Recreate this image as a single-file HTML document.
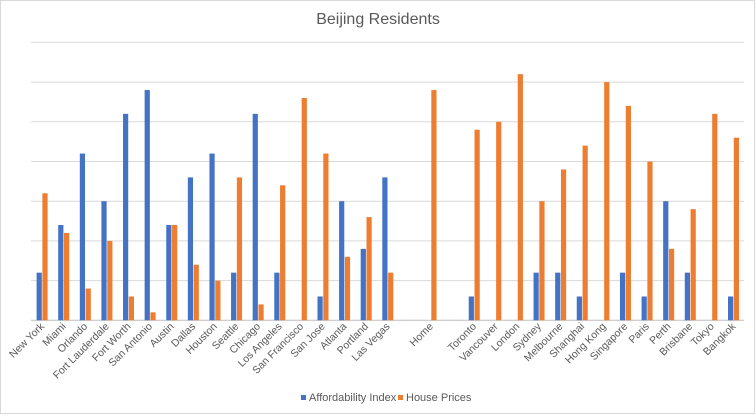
<!DOCTYPE html>
<html><head><meta charset="utf-8"><style>
body{margin:0;background:#fff;}
svg{display:block;font-family:"Liberation Sans",Arial,sans-serif;}
</style></head><body>
<svg id="chart" width="756" height="416" viewBox="0 0 756 416">
<rect x="0.5" y="0.5" width="754" height="413" fill="#fff" stroke="#d9d9d9"/>
<text x="378" y="24" text-anchor="middle" font-size="16" fill="#595959">Beijing Residents</text>
<g id="grid"></g><g id="bars"></g><g id="labels"></g>
<g>
<rect x="301" y="395" width="5" height="5" fill="#4472c4"/>
<text x="309" y="401" font-size="11" fill="#595959">Affordability Index</text>
<rect x="398" y="395" width="5" height="5" fill="#ed7d31"/>
<text x="406" y="401" font-size="11" fill="#595959">House Prices</text>
</g>
</svg>
<script>
const categories=["New York","Miami","Orlando","Fort Lauderdale","Fort Worth","San Antonio","Austin","Dallas","Houston","Seattle","Chicago","Los Angeles","San Francisco","San Jose","Atlanta","Portland","Las Vegas","","Home","","Toronto","Vancouver","London","Sydney","Melbourne","Shanghai","Hong Kong","Singapore","Paris","Perth","Brisbane","Tokyo","Bangkok"];
const affordability=[1.2,2.4,4.2,3.0,5.2,5.8,2.4,3.6,4.2,1.2,5.2,1.2,0,0.6,3.0,1.8,3.6,0,0,0,0.6,0,0,1.2,1.2,0.6,0,1.2,0.6,3.0,1.2,0,0.6];
const housePrices=[3.2,2.2,0.8,2.0,0.6,0.2,2.4,1.4,1.0,3.6,0.4,3.4,5.6,4.2,1.6,2.6,1.2,0,5.8,0,4.8,5.0,6.2,3.0,3.8,4.4,6.0,5.4,4.0,1.8,2.8,5.2,4.6];
const gridTicks=[0,1,2,3,4,5,6,7];
const NS="http://www.w3.org/2000/svg";
const X0=31,X1=744,Y0=320.3,UNIT=39.7;
const step=(X1-X0)/categories.length;
const xc=i=>X0+step*(i+0.5);
const y=v=>Y0-v*UNIT;
function mk(tag,attrs,parent){const e=document.createElementNS(NS,tag);for(const k in attrs)e.setAttribute(k,attrs[k]);parent.appendChild(e);return e;}
const grid=document.getElementById('grid'),bars=document.getElementById('bars'),labels=document.getElementById('labels');
gridTicks.forEach(t=>{
 const l=mk('line',{x1:X0,x2:X1,y1:y(t),y2:y(t),stroke:t===0?'#bfbfbf':'#d9d9d9','stroke-width':1},grid);
 
 
});
const bw=5.2;
categories.forEach((c,i)=>{
 const a=affordability[i],h=housePrices[i];
 if(a>0){const r=mk('rect',{x:xc(i)-bw,y:y(a),width:bw,height:a*UNIT,fill:'#4472c4'},bars);
 
 }
 if(h>0){const r=mk('rect',{x:xc(i)+0.6,y:y(h),width:bw,height:h*UNIT,fill:'#ed7d31'},bars);
 
 }
 if(c){const tx=xc(i)+3,ty=327;
 const t=mk('text',{x:tx,y:ty,'text-anchor':'end','font-size':'10.5',fill:'#595959',transform:`rotate(-45 ${tx} ${ty})`},labels);
 t.textContent=c;
 
 }
});
</script>
</body></html>
